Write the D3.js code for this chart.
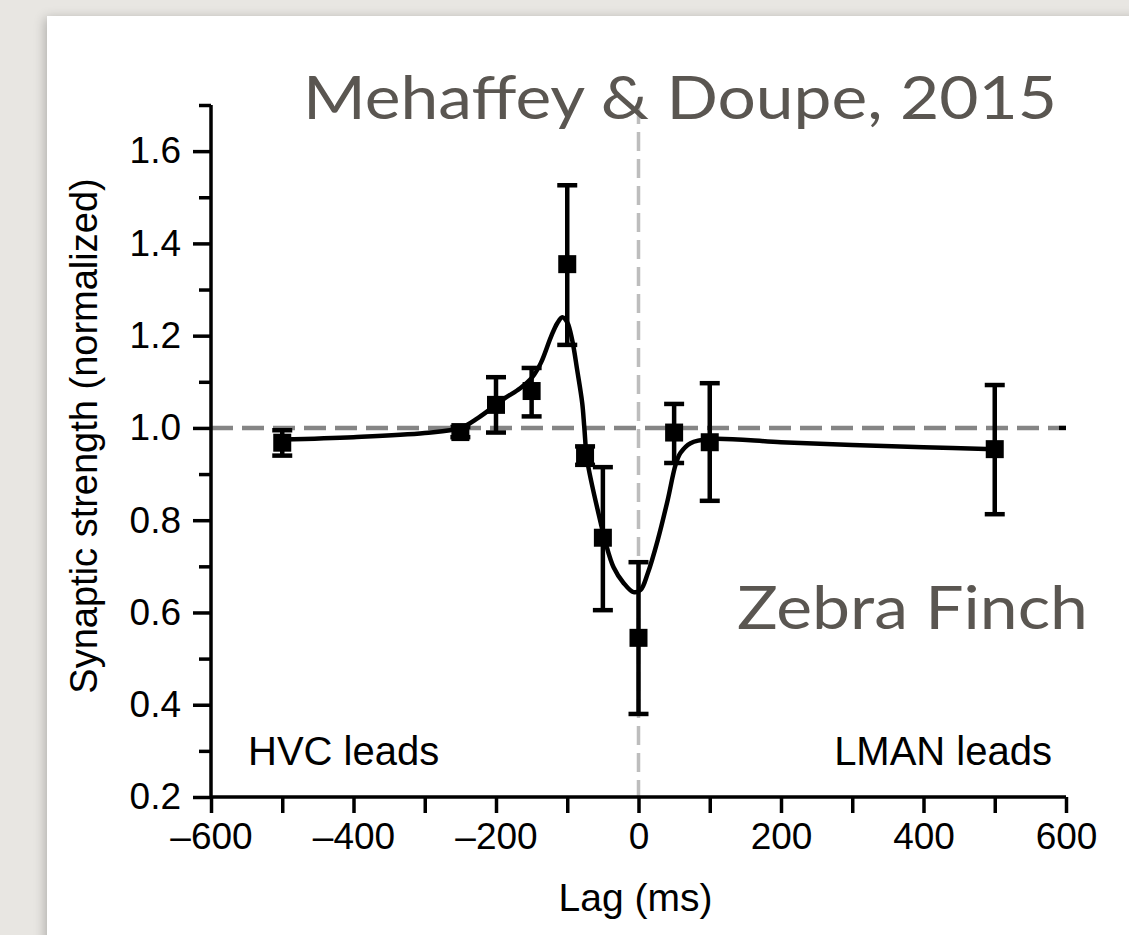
<!DOCTYPE html>
<html>
<head>
<meta charset="utf-8">
<script src="https://cdn.jsdelivr.net/npm/d3@7"></script>
<style>
  html, body { margin: 0; padding: 0; background: #e8e6e2; }
  svg { display: block; }
</style>
</head>
<body>
<svg id="chart" width="1129" height="935"></svg>
<script>
// ---------------- data ----------------
const lags      = [-500, -250, -200, -150, -100, -75, -50, 0, 50, 100, 500];
const strength  = [0.968, 0.991, 1.050, 1.080, 1.355, 0.940, 0.762, 0.545, 0.990, 0.969, 0.954];
const errLow    = [0.940, 0.980, 0.990, 1.025, 1.180, 0.920, 0.605, 0.380, 0.924, 0.842, 0.813];
const errHigh   = [0.995, 1.002, 1.110, 1.130, 1.526, 0.960, 0.915, 0.709, 1.052, 1.097, 1.093];

const fitLag    = [-500, -400, -300, -250, -225, -200, -187, -166, -149, -137, -123, -114, -107, -100, -93, -86, -79, -76, -72, -53, -46, -35, -21, -7, 3, 13, 27, 41, 52, 59, 73, 100, 200, 300, 400, 500];
const fitValue  = [0.975, 0.980, 0.989, 1.000, 1.022, 1.050, 1.065, 1.086, 1.110, 1.141, 1.197, 1.227, 1.240, 1.229, 1.190, 1.125, 1.054, 1.000, 0.930, 0.794, 0.750, 0.698, 0.664, 0.644, 0.649, 0.685, 0.757, 0.844, 0.920, 0.946, 0.967, 0.976, 0.969, 0.963, 0.958, 0.954];

const xTickValues = [-600, -400, -200, 0, 200, 400, 600];
const xMinorTicks = [-500, -300, -100, 100, 300, 500];
const yTickValues = [0.2, 0.4, 0.6, 0.8, 1.0, 1.2, 1.4, 1.6];
const yMinorTicks = [0.3, 0.5, 0.7, 0.9, 1.1, 1.3, 1.5, 1.7];

const titleText  = "Mehaffey & Doupe, 2015";
const speciesText = "Zebra Finch";
const leftNote   = "HVC leads";
const rightNote  = "LMAN leads";
const xLabel     = "Lag (ms)";
const yLabel     = "Synaptic strength (normalized)";

// ---------------- layout ----------------
const svg = d3.select("#chart");
const W = 1129, H = 935;

const defs = svg.append("defs");
const f = defs.append("filter").attr("id", "shadow").attr("x", "-5%").attr("y", "-5%").attr("width", "110%").attr("height", "110%");
f.append("feGaussianBlur").attr("in", "SourceAlpha").attr("stdDeviation", 6);
f.append("feOffset").attr("dx", -2).attr("dy", 2).attr("result", "b");
f.append("feComponentTransfer").append("feFuncA").attr("type", "linear").attr("slope", 0.25);
const fm = f.append("feMerge");
fm.append("feMergeNode");
fm.append("feMergeNode").attr("in", "SourceGraphic");

svg.append("rect").attr("width", W).attr("height", H).attr("fill", "#e8e6e2");
svg.append("rect").attr("x", 47).attr("y", 16).attr("width", W - 47 + 20).attr("height", H - 16 + 20)
   .attr("fill", "#ffffff").attr("filter", "url(#shadow)");

const x = d3.scaleLinear().domain([-600, 600]).range([211, 1066]);
const y = d3.scaleLinear().domain([0.2, 1.7]).range([797, 105]);

const g = svg.append("g");
const tickFont = "'Liberation Sans', Arial, Helvetica, sans-serif";

// reference lines
g.append("line")
  .attr("x1", x(0)).attr("x2", x(0)).attr("y1", y(1.7)).attr("y2", y(0.2))
  .attr("stroke", "#bdbdbd").attr("stroke-width", 3.5).attr("stroke-dasharray", "19,8");
g.append("line")
  .attr("x1", x(-600)).attr("x2", x(590)).attr("y1", y(1.0)).attr("y2", y(1.0))
  .attr("stroke", "#858585").attr("stroke-width", 4.5).attr("stroke-dasharray", "22,9");
g.append("line")
  .attr("x1", x(590)).attr("x2", x(600)).attr("y1", y(1.0)).attr("y2", y(1.0))
  .attr("stroke", "#000").attr("stroke-width", 4.5);

// axes
const yAxis = d3.axisLeft(y).tickValues(yTickValues).tickSize(18).tickPadding(12)
  .tickFormat(d3.format(".1f"));
const yAxisMinor = d3.axisLeft(y).tickValues(yMinorTicks).tickSize(12).tickFormat("");
const xAxis = d3.axisBottom(x).tickValues(xTickValues).tickSize(16).tickPadding(10)
  .tickFormat(d => d < 0 ? "\u2013" + Math.abs(d) : String(d));
const xAxisMinor = d3.axisBottom(x).tickValues(xMinorTicks).tickSize(16).tickFormat("");

function styleAxis(sel) {
  sel.select(".domain").attr("stroke", "#000").attr("stroke-width", 3.5);
  sel.selectAll(".tick line").attr("stroke", "#000").attr("stroke-width", 3.5);
  sel.selectAll(".tick text").attr("fill", "#000")
     .style("font-family", tickFont).style("font-size", "37px");
}

const gy = g.append("g").attr("transform", `translate(${x(-600)},0)`).call(yAxis);
gy.select(".domain").attr("d", `M0,${y(1.7)}V${y(0.2)}`);
styleAxis(gy);
const gym = g.append("g").attr("transform", `translate(${x(-600)},0)`).call(yAxisMinor);
gym.select(".domain").remove();
styleAxis(gym);

const gx = g.append("g").attr("transform", `translate(0,${y(0.2)})`).call(xAxis);
gx.select(".domain").attr("d", `M${x(-600)},0H${x(600)}`);
styleAxis(gx);
const gxm = g.append("g").attr("transform", `translate(0,${y(0.2)})`).call(xAxisMinor);
gxm.select(".domain").remove();
styleAxis(gxm);

// fit curve
const fit = fitLag.map((d, i) => [d, fitValue[i]]);
g.append("path").datum(fit)
  .attr("fill", "none").attr("stroke", "#000").attr("stroke-width", 4.5)
  .attr("d", d3.line().x(d => x(d[0])).y(d => y(d[1])).curve(d3.curveCatmullRom.alpha(0.5)));

// error bars
const pts = lags.map((d, i) => ({lag: d, v: strength[i], lo: errLow[i], hi: errHigh[i]}));
const eb = g.append("g").attr("stroke", "#000").attr("stroke-width", 4.5);
eb.selectAll("line.v").data(pts).join("line").attr("class", "v")
  .attr("x1", d => x(d.lag)).attr("x2", d => x(d.lag))
  .attr("y1", d => y(d.lo)).attr("y2", d => y(d.hi));
eb.selectAll("line.t").data(pts).join("line").attr("class", "t")
  .attr("x1", d => x(d.lag) - 10).attr("x2", d => x(d.lag) + 10)
  .attr("y1", d => y(d.hi)).attr("y2", d => y(d.hi));
eb.selectAll("line.b").data(pts).join("line").attr("class", "b")
  .attr("x1", d => x(d.lag) - 10).attr("x2", d => x(d.lag) + 10)
  .attr("y1", d => y(d.lo)).attr("y2", d => y(d.lo));

// markers
g.selectAll("rect.m").data(pts).join("rect").attr("class", "m")
  .attr("x", d => x(d.lag) - 9).attr("y", d => y(d.v) - 9)
  .attr("width", 18).attr("height", 18).attr("fill", "#000");

// labels
g.append("text").attr("x", x(0) - 3).attr("y", 911).attr("text-anchor", "middle")
  .style("font-family", tickFont).style("font-size", "39px").attr("fill", "#000").text(xLabel);
g.append("text").attr("transform", `translate(97,${436}) rotate(-90)`).attr("text-anchor", "middle")
  .style("font-family", tickFont).style("font-size", "38px").attr("fill", "#000").text(yLabel);
g.append("text").attr("x", 248).attr("y", 765)
  .style("font-family", tickFont).style("font-size", "40px").attr("fill", "#000").text(leftNote);
g.append("text").attr("x", 1052).attr("y", 765).attr("text-anchor", "end")
  .style("font-family", tickFont).style("font-size", "40px").attr("fill", "#000").text(rightNote);

// annotations
const annFont = "Lato, 'Open Sans', sans-serif";
svg.append("text").attr("x", 303).attr("y", 119)
  .attr("textLength", 754).attr("lengthAdjust", "spacingAndGlyphs")
  .style("font-family", annFont).style("font-size", "60px").attr("fill", "#5a5651").text(titleText);
svg.append("text").attr("x", 737).attr("y", 629)
  .attr("textLength", 351).attr("lengthAdjust", "spacingAndGlyphs")
  .style("font-family", annFont).style("font-size", "60px").attr("fill", "#5a5651").text(speciesText);
</script>
</body>
</html>
